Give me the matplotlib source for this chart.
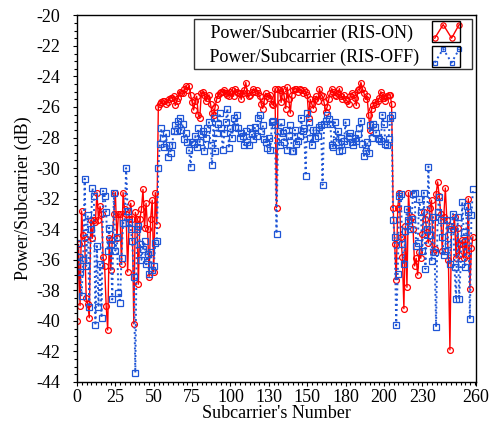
import numpy as np
import matplotlib
matplotlib.use("Agg")
from matplotlib import pyplot as plt
from matplotlib.legend_handler import HandlerBase
from matplotlib.lines import Line2D
from matplotlib.patches import Rectangle

plt.rcParams['font.family'] = ['Liberation Serif', 'DejaVu Serif']
plt.rcParams['axes.unicode_minus'] = False

# subcarrier index
subcarrier = np.arange(259)

# received power per subcarrier, RIS switched on (dB)
power_on = [
    -40.0, -35.0, -39.0, -32.8, -34.4, -34.6, -38.5, -38.9, -39.8, -33.4,
    -34.6, -33.4, -33.5, -31.6, -33.4, -32.5, -33.0, -35.8, -36.4, -39.0,
    -40.6, -34.6, -36.7, -34.7, -33.0, -31.6, -34.6, -33.0, -33.0, -36.3,
    -31.6, -32.7, -33.0, -36.8, -33.3, -32.3, -33.3, -40.2, -32.9, -33.3,
    -37.6, -33.3, -32.7, -31.4, -33.9, -32.3, -34.0, -37.1, -33.3, -32.1,
    -36.8, -31.6, -33.7,
    -26.0, -25.8, -25.7, -25.6, -25.6, -25.8, -25.7, -25.5, -25.4, -25.4,
    -25.3, -25.9, -25.6, -25.4, -25.0, -25.1, -25.1, -24.8, -24.6, -24.9,
    -24.6, -25.2, -25.7, -26.2, -25.6, -25.3, -26.5, -26.7, -25.1, -25.0,
    -25.2, -25.6, -25.4, -25.2, -25.8, -26.4, -26.5, -26.0, -25.5, -25.2,
    -25.1, -25.0, -25.0, -24.9, -25.1, -25.2, -25.3, -25.0, -24.9, -25.3,
    -24.8, -25.0, -25.1, -25.1, -25.5, -25.1, -24.9, -24.4, -25.1, -25.3,
    -25.2, -25.0, -24.8, -25.0, -24.9, -25.1, -25.3, -25.8, -26.1, -25.6,
    -25.1, -25.3, -25.4, -25.2, -25.8, -25.9, -24.8, -32.6, -24.8, -24.9,
    -25.7, -24.8, -25.3, -26.1, -24.7, -25.5, -26.4, -25.2, -24.9, -24.8,
    -24.8, -25.0, -24.8, -24.9, -25.1, -24.9, -25.0, -25.2, -26.7, -25.5,
    -25.8, -26.1, -25.5, -25.3, -25.6, -24.8, -25.2, -25.3, -25.7, -26.3,
    -26.0, -25.5, -25.1, -24.8, -25.0, -25.2, -25.3, -25.1, -24.8, -25.3,
    -25.5, -25.2, -25.5, -25.6, -25.8, -25.3, -25.1, -25.2, -25.4, -25.9,
    -24.9, -24.8, -24.4, -24.8, -25.1, -25.5, -25.3, -26.5, -27.5, -26.1,
    -25.9, -25.7, -25.8, -25.6, -25.4, -25.0, -25.2, -25.4, -25.6, -25.3,
    -25.2, -25.2, -25.8,
    -32.6, -35.0, -37.3, -32.6, -31.6, -34.5, -35.8, -39.2, -33.8, -37.8,
    -31.6, -33.4, -33.2, -34.0, -36.4, -35.9, -37.0, -35.5, -35.9, -34.3,
    -32.9, -33.3, -34.2, -34.9, -32.6, -32.1, -35.5, -35.3, -31.7, -30.9,
    -31.8, -33.0, -35.4, -33.2, -31.3, -33.4, -36.0, -41.9, -33.8, -34.0,
    -33.2, -35.9, -33.9, -35.7, -35.0, -34.7, -35.9, -34.7, -35.7, -32.0,
    -37.9, -35.2, -34.5,
]

# received power per subcarrier, RIS switched off (dB)
power_off = [
    -34.9, -35.8, -36.8, -38.4, -36.0, -30.7, -36.4, -33.1, -39.1, -34.0,
    -31.3, -31.8, -40.3, -35.1, -39.1, -36.3, -39.8, -31.5, -31.8, -32.9,
    -35.4, -33.9, -35.0, -38.6, -31.6, -35.4, -34.5, -38.2, -38.8, -35.9,
    -33.6, -33.6, -30.0, -32.8, -33.5, -34.0, -34.8, -37.1, -43.4, -34.0,
    -33.8, -35.0, -36.0, -35.3, -34.8, -36.3, -35.6, -36.9, -35.5, -36.7,
    -36.4, -34.9, -34.8, -30.0,
    -28.4, -27.4, -28.0, -28.6, -27.7, -29.3, -28.5, -29.0, -28.5, -27.6,
    -27.2, -27.6, -26.9, -26.7, -27.5, -27.1, -28.1, -27.7, -28.3, -28.8,
    -29.9, -28.3, -28.4, -27.9, -28.6, -27.4, -28.3, -27.8, -27.6, -28.9,
    -28.0, -27.4, -27.0, -28.5, -29.8, -26.7, -28.9, -27.7, -27.1, -26.4,
    -27.4, -28.8, -27.7, -27.0, -26.1, -28.7, -27.4, -28.0, -26.7, -27.3,
    -26.5, -27.4, -28.0, -27.7, -27.9, -28.5, -27.6, -28.3, -28.5, -27.4,
    -27.8, -28.1, -27.3, -27.9, -26.7, -26.5, -27.6, -27.2, -28.1, -28.3,
    -28.7, -28.0, -28.8, -27.0, -26.9, -27.2, -34.3, -27.6, -28.5, -27.0,
    -27.7, -28.3, -27.5, -28.8, -27.9, -27.2, -28.9, -28.9, -27.5, -28.4,
    -28.2, -27.9, -26.7, -27.6, -27.4, -30.5, -26.4, -27.0, -28.0, -28.5,
    -27.5, -28.0, -27.5, -27.9, -27.3, -27.2, -31.1, -27.1, -26.9, -26.5,
    -26.8, -27.1, -28.5, -28.6, -27.0, -28.3, -27.6, -28.9, -28.0, -28.8,
    -28.2, -27.0, -28.4, -27.9, -27.7, -28.3, -28.5, -28.0, -28.2, -27.8,
    -27.4, -26.9, -28.4, -29.2, -28.9, -28.3, -29.0, -27.2, -28.0, -27.1,
    -27.3, -27.7, -28.0, -28.1, -28.2, -26.5, -27.1, -28.4, -28.5, -28.1,
    -26.7, -26.5,
    -33.4, -34.5, -40.3, -36.9, -31.8, -31.7, -35.0, -36.3, -34.1, -32.7,
    -33.4, -34.0, -33.3, -31.7, -31.6, -35.1, -34.9, -32.0, -32.9, -35.4,
    -31.6, -36.6, -34.0, -29.9, -34.4, -36.1, -33.2, -35.5, -40.4, -32.9,
    -31.9, -33.4, -34.5, -35.7, -35.4, -33.4, -35.0, -36.3, -34.0, -33.0,
    -36.5, -38.6, -33.2, -38.6, -36.3, -32.2, -34.2, -36.5, -32.5, -32.9,
    -39.9, -33.1, -31.4,
]

xtick_pos = [0, 25, 50, 75, 100, 125, 150, 175, 200, 225, 260]
xtick_labels = ["0", "25", "50", "75", "100", "130", "150", "180", "200", "230", "260"]
ytick_pos = np.arange(-44, -19, 2)


class BoxedZigzag(HandlerBase):
    # legend key drawn as a small framed zigzag, like the original tool does
    def create_artists(self, legend, orig, xdescent, ydescent, width, height,
                       fontsize, trans):
        x0, y0 = -xdescent, -ydescent
        bw = width * 0.74
        xs = [x0 + bw * f for f in (0.1, 0.4, 0.7, 0.97)]
        ys = [y0 + height * f for f in (0.2, 0.85, 0.2, 0.85)]
        zig = Line2D(xs, ys, color=orig.get_color(),
                     linestyle=orig.get_linestyle(),
                     linewidth=orig.get_linewidth(), marker=orig.get_marker(),
                     markersize=orig.get_markersize() * 0.9,
                     markerfacecolor="none", markeredgecolor=orig.get_color(),
                     markeredgewidth=orig.get_markeredgewidth())
        zig.set_transform(trans)
        box = Rectangle((x0, y0), bw, height, fill=False,
                        edgecolor="black", linewidth=1.0, transform=trans)
        return [zig, box]


fig = plt.figure(figsize=(4.92, 4.29), dpi=100)
ax = fig.add_axes([0.1565, 0.1096, 0.811, 0.8547])

l_on, = ax.plot(subcarrier, power_on, color="#ff0000", linestyle="-",
                linewidth=1.0, marker="o", markersize=4.2,
                markerfacecolor="none", markeredgewidth=0.9)
l_off, = ax.plot(subcarrier, power_off, color="#1f55d6", linestyle=":",
                 linewidth=1.4, marker="s", markersize=3.9,
                 markerfacecolor="none", markeredgewidth=0.9)

ax.set_xlim(0, 260)
ax.set_ylim(-44, -20)
ax.set_xticks(xtick_pos)
ax.set_xticklabels(xtick_labels)
ax.set_yticks(ytick_pos)
ax.set_xticks(np.arange(0, 260.1, 25 / 8), minor=True)
ax.set_yticks(np.arange(-44, -19.9, 0.5), minor=True)
ax.tick_params(axis="both", which="major", direction="out", length=3,
               width=0.8, labelsize=13, top=False, right=False)
ax.tick_params(axis="both", which="minor", direction="out", length=2,
               width=0.8, top=False, right=False)
ax.tick_params(axis="y", which="major", pad=9)
ax.tick_params(axis="x", which="major", pad=2)

ax.set_xlabel("Subcarrier's Number", fontsize=13, labelpad=-1)
ax.set_ylabel("Power/Subcarrier (dB)", fontsize=13, labelpad=3)

leg = ax.legend([l_on, l_off],
                ["\u2002\u2005Power/Subcarrier (RIS-ON)\u2005\u200a",
                 "\u2002\u2005Power/Subcarrier (RIS-OFF)"],
                handler_map={Line2D: BoxedZigzag()},
                loc="upper right", fontsize=13, markerfirst=False,
                frameon=True, fancybox=False, edgecolor="black",
                borderaxespad=0.22, handlelength=2.1, handleheight=1.4,
                borderpad=0.12, labelspacing=0.2, handletextpad=0.72)
leg.get_frame().set_linewidth(1.0)

for s in ax.spines.values():
    s.set_linewidth(1.0)

fig.savefig("out.png", dpi=100)
